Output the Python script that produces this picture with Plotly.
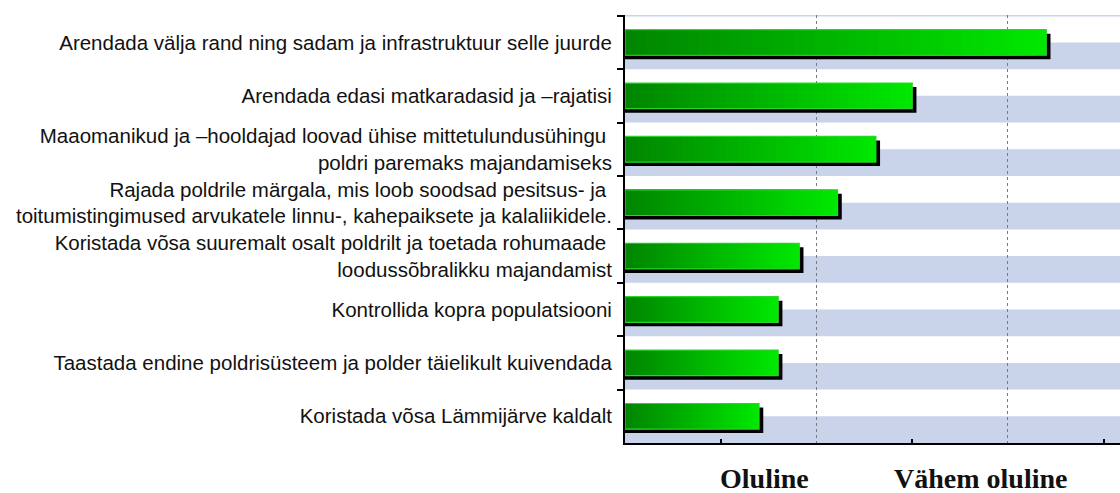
import plotly.graph_objects as go

categories = [
    "Arendada välja rand ning sadam ja infrastruktuur selle juurde",
    "Arendada edasi matkaradasid ja –rajatisi",
    "Maaomanikud ja –hooldajad loovad ühise mittetulundusühingu <br>poldri paremaks majandamiseks",
    "Rajada poldrile märgala, mis loob soodsad pesitsus- ja <br>toitumistingimused arvukatele linnu-, kahepaiksete ja kalaliikidele.",
    "Koristada võsa suuremalt osalt poldrilt ja toetada rohumaade <br>loodussõbralikku majandamist",
    "Kontrollida kopra populatsiooni",
    "Taastada endine poldrisüsteem ja polder täielikult kuivendada",
    "Koristada võsa Lämmijärve kaldalt",
]
values = [2.20, 1.50, 1.31, 1.11, 0.91, 0.80, 0.80, 0.70]
bottom_labels = ["Oluline", "Vähem oluline"]
bottom_label_pos = [0.726, 1.854]

N_SEG = 40
dark = (0, 134, 0)
bright = (0, 232, 0)
BAR_W = 0.48
SHADOW_DY = 0.075
SHADOW_DX = 0.022
x_max = 2.585

fig = go.Figure()

# shadow
fig.add_trace(go.Bar(
    y=categories, x=[v + SHADOW_DX for v in values], orientation="h",
    width=BAR_W, offset=-BAR_W / 2 + SHADOW_DY,
    marker=dict(color="#000000", line=dict(width=0)),
    hoverinfo="skip", showlegend=False,
))

# gradient body, drawn as nested bars from long/bright to short/dark
for k in range(N_SEG):
    j = N_SEG - 1 - k
    t = j / (N_SEG - 1)
    col = "rgb({},{},{})".format(
        int(dark[0] + (bright[0] - dark[0]) * t),
        int(dark[1] + (bright[1] - dark[1]) * t),
        int(dark[2] + (bright[2] - dark[2]) * t),
    )
    fig.add_trace(go.Bar(
        y=categories, x=[v * (j + 1) / N_SEG for v in values], orientation="h",
        width=BAR_W, offset=-BAR_W / 2,
        marker=dict(color=col, line=dict(width=0)),
        hoverinfo="skip", showlegend=False,
    ))

# outline
fig.add_trace(go.Bar(
    y=categories, x=values, orientation="h",
    width=BAR_W, offset=-BAR_W / 2,
    marker=dict(color="rgba(0,0,0,0)", line=dict(width=1.2, color="#2ad42a")),
    hovertemplate="%{x}<extra></extra>", showlegend=False,
))

# background stripes: lower half of each category band
shapes = []
for i in range(len(categories)):
    shapes.append(dict(
        type="rect", xref="paper", yref="y", x0=0, x1=1, y0=i, y1=i + 0.5,
        fillcolor="#c9d3ea", line=dict(width=0), layer="below",
    ))
shapes.append(dict(
    type="line", xref="paper", yref="y", x0=0, x1=1, y0=-0.5, y1=-0.5,
    line=dict(color="#c9d3ea", width=1.5), layer="below",
))

annotations = []
for lab, pos in zip(bottom_labels, bottom_label_pos):
    annotations.append(dict(
        text="<b>" + lab + "</b>", x=pos, xref="x", y=-0.082, yref="paper",
        xanchor="center", yanchor="middle", showarrow=False,
        font=dict(family="Liberation Serif", size=28, color="#111"),
    ))

fig.update_layout(
    width=1120, height=493,
    margin=dict(l=625, r=0, t=15, b=50),
    paper_bgcolor="white", plot_bgcolor="white",
    barmode="overlay",
    shapes=shapes, annotations=annotations,
    font=dict(family="Liberation Sans", size=20.5, color="#111"),
    xaxis=dict(
        range=[0, x_max], tickvals=[0.5, 1.5, 2.5], showticklabels=False,
        ticks="inside", ticklen=4, tickwidth=2, tickcolor="#000",
        showgrid=False, zeroline=False,
        showline=True, linecolor="#000", linewidth=2,
        minor=dict(tickvals=[1, 2], showgrid=True, gridcolor="#7a7a7a",
                   griddash="dot", gridwidth=1, ticks=""),
    ),
    yaxis=dict(
        type="category", autorange="reversed", tickson="boundaries",
        ticks="outside", ticklen=6, tickwidth=2, tickcolor="#000",
        showline=True, linecolor="#000", linewidth=2, showgrid=False,
        ticklabelstandoff=7,
        tickfont=dict(family="Liberation Sans", size=20.5, color="#111"),
    ),
)

fig.write_html(
    "out.html",
    config={"displayModeBar": False},
    post_script="document.body.style.margin='0px';document.body.style.overflow='hidden';",
)
